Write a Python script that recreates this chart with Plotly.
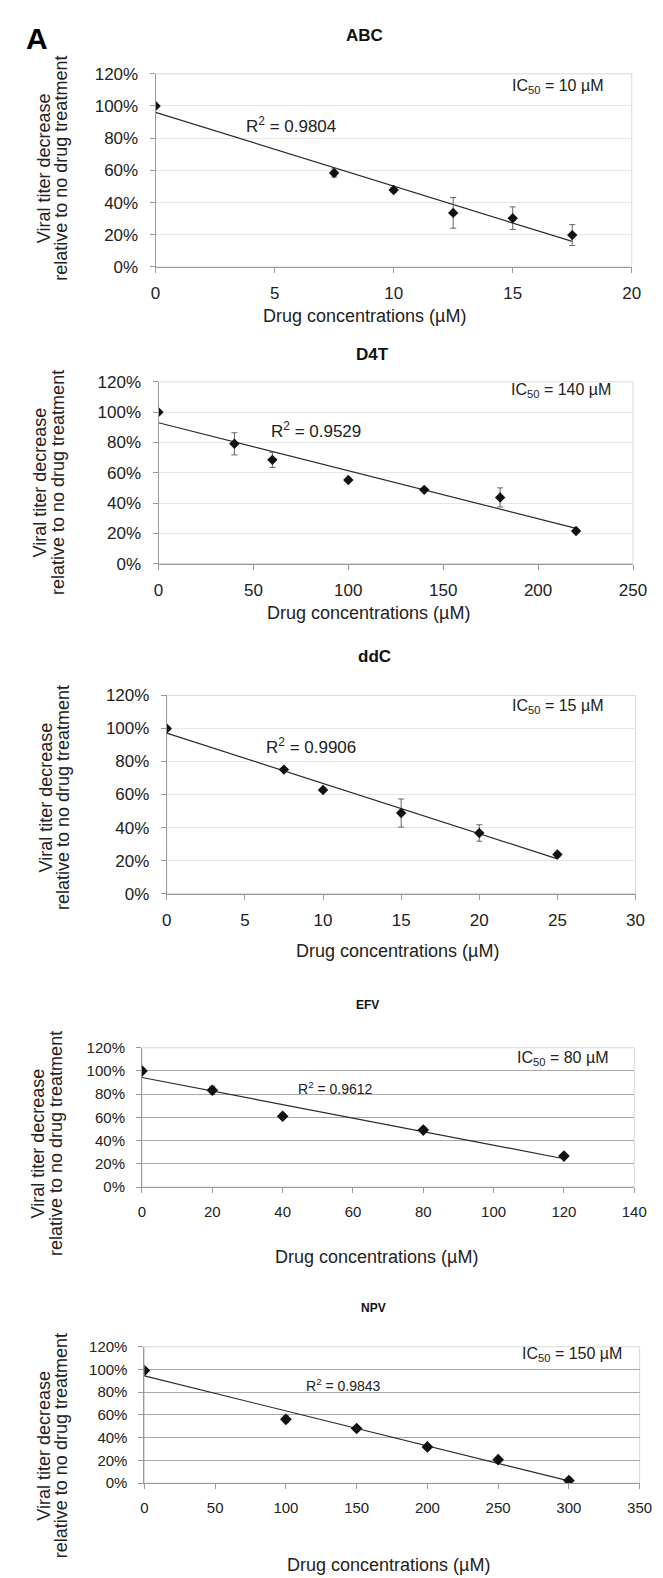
import numpy as np
import plotly.graph_objects as go

W, H = 663, 1578

# ---------------- data ----------------
abc_x = [0, 7.5, 10, 12.5, 15, 17.5]
abc_y = [100, 58.4, 47.8, 33.6, 30.3, 19.8]
abc_err = [0.8, 2.5, 1.5, 9.5, 7.0, 6.5]

d4t_x = [0, 40, 60, 100, 140, 180, 220]
d4t_y = [100, 79.1, 68.5, 55.2, 48.7, 43.7, 21.5]
d4t_err = [0.5, 7.3, 5.0, 1.0, 1.0, 6.3, 1.0]

ddc_x = [0, 7.5, 10, 15, 20, 25]
ddc_y = [100, 75.1, 62.7, 48.8, 36.7, 23.7]
ddc_err = [0.5, 1.0, 1.0, 8.5, 5.0, 1.5]

efv_x = [0, 20, 40, 80, 120]
efv_y = [100, 83.4, 61.0, 49.1, 26.7]
efv_err = [1.5, 3.5, 2.0, 2.0, 2.0]

npv_x = [0, 100, 150, 200, 250, 300]
npv_y = [99.1, 56.2, 48.1, 31.9, 20.6, 2.3]
npv_err = [2.0, 3.0, 2.0, 2.0, 2.0, 2.0]

drug_names = ["ABC", "D4T", "ddC", "EFV", "NPV"]
r2_labels = ["0.9804", "0.9529", "0.9906", "0.9612", "0.9843"]
ic50_labels = ["10", "140", "15", "80", "150"]
x_max = [20, 250, 30, 140, 350]
x_dtick = [5, 50, 5, 20, 50]

series = [(abc_x, abc_y, abc_err), (d4t_x, d4t_y, d4t_err), (ddc_x, ddc_y, ddc_err),
          (efv_x, efv_y, efv_err), (npv_x, npv_y, npv_err)]

# ---------------- layout config (pixels) ----------------
cfg = [
    dict(box=(146.8, 637.0, 57.5, 253.0), title=(362, 19), xt=(362, 303), yt=(32, 50, 153),
         r2pos=(5.7, 88), icpos=(16.9, 112), style="excel"),
    dict(box=(149.8, 638.3, 369.3, 553.3), title=(370, 342), xt=(366, 603), yt=(28, 47, 471),
         r2pos=(82.8, 88.5), icpos=(212, 114.6), style="excel"),
    dict(box=(158.3, 640.9, 686.7, 887.3), title=(372, 647), xt=(396, 945), yt=(34, 52, 790),
         r2pos=(9.26, 89.5), icpos=(25, 113.4), style="excel"),
    dict(box=(132.8, 639.6, 1043.3, 1184.3), title=(365, 1000), xt=(374, 1255), yt=(26, 45, 1140),
         r2pos=(55.0, 85.6), icpos=(119.5, 110.6), style="dark"),
    dict(box=(135.3, 645.1, 1346.0, 1484.0), title=(371, 1307), xt=(387, 1567), yt=(32, 49, 1446),
         r2pos=(141, 86.4), icpos=(302, 113), style="dark"),
]

FONT = "Liberation Sans, Arial, sans-serif"

fig = go.Figure()
annotations = []
shapes = []

def px2paper_y(py):
    return 1 - py / H

for i, ((xs, ys, es), c) in enumerate(zip(series, cfg)):
    n = i + 1
    xa = "x" if n == 1 else f"x{n}"
    ya = "y" if n == 1 else f"y{n}"
    xkey = "xaxis" if n == 1 else f"xaxis{n}"
    ykey = "yaxis" if n == 1 else f"yaxis{n}"
    x0, x1, ytop, ybot = c["box"]
    dark = c["style"] == "dark"

    # trendline (linear least squares, as Excel does)
    slope, icpt = np.polyfit(xs, ys, 1)
    tx = [xs[0], xs[-1]]
    ty = [icpt + slope * v for v in tx]
    fig.add_trace(go.Scatter(x=tx, y=ty, mode="lines", xaxis=xa, yaxis=ya,
                             line=dict(color="#2a2a2a", width=1.2), showlegend=False,
                             hoverinfo="skip"))
    fig.add_trace(go.Scatter(x=xs, y=ys, mode="markers", xaxis=xa, yaxis=ya,
                             marker=dict(symbol="diamond", size=9 if dark else 8, color="#111"),
                             error_y=dict(type="data", array=es, visible=True,
                                          color="#666", thickness=1, width=3),
                             showlegend=False))

    tickfont = dict(family=FONT, size=15 if dark else 17, color="#222")
    grid = "#a9a9a9" if dark else "#e6e6e6"
    fig.layout[xkey] = dict(domain=[x0 / W, x1 / W], anchor=ya, range=[0, x_max[i]],
                            dtick=x_dtick[i], tick0=0, showgrid=False, zeroline=False,
                            showline=True, linecolor="#999", linewidth=1,
                            ticks="outside", ticklen=5, tickcolor="#999",
                            tickfont=tickfont, ticklabelstandoff=6)
    fig.layout[ykey] = dict(domain=[px2paper_y(ybot), px2paper_y(ytop)], anchor=xa,
                            range=[0, 120], dtick=20, tick0=0, ticksuffix="%",
                            showgrid=True, gridcolor=grid, gridwidth=1, zeroline=False,
                            showline=True, linecolor="#999", linewidth=1,
                            ticks="outside", ticklen=5, tickcolor="#999",
                            tickfont=tickfont, ticklabelstandoff=8)
    # light plot-area border (top/right)
    shapes.append(dict(type="rect", xref=f"{xa} domain", yref=f"{ya} domain",
                       x0=0, x1=1, y0=0, y1=1, line=dict(color="#d9d9d9", width=1),
                       layer="below"))

    # panel title
    annotations.append(dict(text=f"<b>{drug_names[i]}</b>", xref="paper", yref="paper",
                            x=c["title"][0] / W, y=px2paper_y(c["title"][1]),
                            xanchor="center", yanchor="middle", showarrow=False,
                            font=dict(family=FONT, size=12 if dark else 17, color="#111")))
    # x axis title
    annotations.append(dict(text="Drug concentrations (µM)", xref="paper", yref="paper",
                            x=c["xt"][0] / W, y=px2paper_y(c["xt"][1]),
                            xanchor="center", yanchor="middle", showarrow=False,
                            font=dict(family=FONT, size=18, color="#222")))
    # y axis title (two lines)
    for txt, xx in (("Viral titer decrease", c["yt"][0]),
                    ("relative to no drug treatment", c["yt"][1])):
        annotations.append(dict(text=txt, xref="paper", yref="paper",
                                x=xx / W, y=px2paper_y(c["yt"][2]), textangle=-90,
                                xanchor="center", yanchor="middle", showarrow=False,
                                font=dict(family=FONT, size=18, color="#222")))
    # R^2 and IC50 labels
    annotations.append(dict(text=f"R<sup>2</sup> = {r2_labels[i]}", xref=xa, yref=ya,
                            x=c["r2pos"][0], y=c["r2pos"][1], xanchor="center",
                            yanchor="middle", showarrow=False,
                            font=dict(family=FONT, size=14 if dark else 17, color="#222")))
    annotations.append(dict(text=f"IC<sub>50</sub> = {ic50_labels[i]} µM", xref=xa, yref=ya,
                            x=c["icpos"][0], y=c["icpos"][1], xanchor="center",
                            yanchor="middle", showarrow=False,
                            font=dict(family=FONT, size=16, color="#222")))

# Panel letter
annotations.append(dict(text="<b>A</b>", xref="paper", yref="paper", x=25 / W,
                        y=px2paper_y(22), xanchor="center", yanchor="middle",
                        showarrow=False, font=dict(family=FONT, size=30, color="#000")))

fig.update_layout(width=W, height=H, margin=dict(l=0, r=0, t=0, b=0),
                  paper_bgcolor="white", plot_bgcolor="white",
                  annotations=annotations, shapes=shapes, showlegend=False,
                  font=dict(family=FONT))

fig.write_html("out.html")
